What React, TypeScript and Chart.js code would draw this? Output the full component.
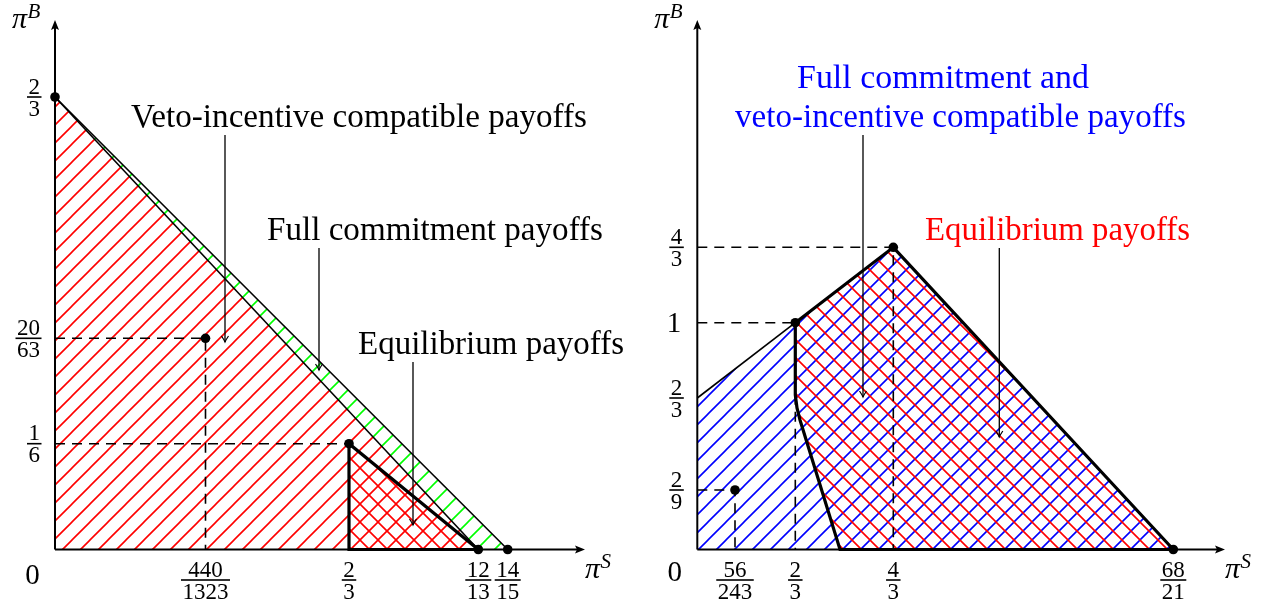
import React, { useEffect, useRef } from 'react';
import { Chart, registerables } from 'chart.js';

Chart.register(...registerables);

type Pt = [number, number];

// ================= Diagram coordinates (schematic units, origin = (0,0)) =================

// ---------- Left panel ----------
const leftAxisEnds: Pt = [53.0, 52.95];
const leftXTickValues = [15.05, 29.4, 42.33, 45.27];
const leftXTickLabels = [['440', '1323'], ['2', '3'], ['12', '13'], ['14', '15']];
const leftYTickValues = [45.25, 21.12, 10.58];
const leftYTickLabels = [['2', '3'], ['20', '63'], ['1', '6']];
const leftFullCommitLine: Pt[] = [[0, 45.25], [45.27, 0]];
const leftVetoLine: Pt[] = [[0, 45.25], [42.33, 0]];
const leftEquilibriumEdge: Pt[] = [[42.33, 0], [29.4, 0], [29.4, 10.58], [42.33, 0]];
const leftGreenStrip: Pt[] = [[0, 45.25], [45.27, 0], [42.33, 0]];
const leftVetoRegion: Pt[] = [[0, 45.25], [42.33, 0], [0, 0]];
const leftEquilibriumRegion: Pt[] = [[29.4, 10.58], [42.33, 0], [29.4, 0]];
const leftDashed: Pt[][] = [
  [[0, 21.12], [15.05, 21.12], [15.05, 0]],
  [[0, 10.58], [29.4, 10.58]],
];
const leftDots: Pt[] = [[0, 45.25], [15.05, 21.12], [29.4, 10.58], [42.33, 0], [45.27, 0]];
const leftPointers: Pt[][] = [
  [[17.0, 41.45], [17.0, 20.75]],
  [[26.4, 30.15], [26.4, 17.95]],
  [[35.8, 18.75], [35.8, 2.45]],
];
const leftTexts = ['Veto-incentive compatible payoffs', 'Full commitment payoffs', 'Equilibrium payoffs'];

// ---------- Right panel ----------
const rightAxisEnds: Pt = [52.77, 52.95];
const rightXTickValues = [3.77, 9.8, 19.6, 47.6];
const rightXTickLabels = [['56', '243'], ['2', '3'], ['4', '3'], ['68', '21']];
const rightYTickValues = [30.22, 15.15, 5.95];
const rightYTickLabels = [['4', '3'], ['2', '3'], ['2', '9']];
const rightYPlainValues = [22.68];
const rightYPlainLabels = ['1'];
const rightVetoRegion: Pt[] = [[0, 15.15], [9.8, 22.68], [19.6, 30.22], [47.6, 0], [0, 0]];
const rightEquilibriumRegion: Pt[] = [
  [9.8, 22.68], [19.6, 30.22], [47.6, 0], [14.27, 0], [10.27, 12.95], [9.97, 14.15], [9.8, 15.45],
];
const rightThinLine: Pt[] = [[0, 15.15], [9.8, 22.68]];
const rightThickOuter: Pt[] = [[9.8, 22.68], [19.6, 30.22], [47.6, 0]];
const rightThickInner: Pt[] = [[9.8, 22.68], [9.8, 15.45], [9.97, 14.15], [10.27, 12.95], [14.27, 0], [47.6, 0]];
const rightDashed: Pt[][] = [
  [[0, 30.22], [19.6, 30.22], [19.6, 0]],
  [[0, 22.68], [9.8, 22.68], [9.8, 0]],
  [[0, 5.95], [3.77, 5.95], [3.77, 0]],
];
const rightDots: Pt[] = [[3.77, 5.95], [9.8, 22.68], [19.6, 30.22], [47.6, 0]];
const rightPointers: Pt[][] = [
  [[16.57, 41.45], [16.57, 15.25]],
  [[30.2, 30.15], [30.2, 11.25]],
];
const rightTexts = ['Full commitment and', 'veto-incentive compatible payoffs', 'Equilibrium payoffs'];

// ================= Styling / layout =================
const SERIF = '"Liberation Serif", "DejaVu Serif", serif';
const RED = '#ff0000';
const GREEN = '#00ff00';
const BLUE = '#0000ff';
const H = 606;
const UNIT = 10; // px per diagram unit

type TextSpec = { text: string; x: number; y: number; width: number; color: string };

type PanelSpec = {
  id: string;
  canvasLeft: number;
  canvasWidth: number;
  originPx: number;
  axisEnds: Pt;
  xTickValues: number[];
  xTickLabels: string[][];
  yTickValues: number[];
  yTickLabels: string[][];
  yPlainValues: number[];
  yPlainLabels: string[];
  zeroBaseline: number;
  pointers: Pt[][];
  texts: TextSpec[];
  datasets: (p: Record<string, CanvasPattern>) => any[];
};

function hatch(color: string, dir: 'ne' | 'nw', P = 18, lw = 1.6): CanvasPattern {
  const c = document.createElement('canvas');
  c.width = P;
  c.height = P;
  const g = c.getContext('2d')!;
  g.strokeStyle = color;
  g.lineWidth = lw;
  g.beginPath();
  if (dir === 'ne') {
    g.moveTo(-2, P + 2); g.lineTo(P + 2, -2);
    g.moveTo(-2, 2); g.lineTo(2, -2);
    g.moveTo(P - 2, P + 2); g.lineTo(P + 2, P - 2);
  } else {
    g.moveTo(-2, -2); g.lineTo(P + 2, P + 2);
    g.moveTo(P - 2, -2); g.lineTo(P + 2, 2);
    g.moveTo(-2, P - 2); g.lineTo(2, P + 2);
  }
  g.stroke();
  return g.createPattern(c, 'repeat')!;
}

const toData = (pts: Pt[]) => pts.map(([x, y]) => ({ x, y }));

function lineDs(pts: Pt[], opts: any) {
  return {
    data: toData(pts),
    pointRadius: 0,
    pointHoverRadius: 0,
    borderColor: '#000',
    backgroundColor: 'transparent',
    borderWidth: 1.5,
    fill: false,
    tension: 0,
    clip: false,
    ...opts,
  };
}

function regionDs(pts: Pt[], pattern: CanvasPattern, order: number) {
  return lineDs(pts, { fill: 'shape', backgroundColor: pattern, borderWidth: 0, order });
}

function dotsDs(pts: Pt[]) {
  return {
    data: toData(pts),
    showLine: false,
    pointRadius: 4.8,
    pointHoverRadius: 4.8,
    pointBackgroundColor: '#000',
    pointBorderColor: '#000',
    pointBorderWidth: 0,
    borderWidth: 0,
    clip: false,
    order: 0,
  };
}

function axesDs(ends: Pt) {
  return [
    lineDs([[0, 0], [ends[0] - 0.6, 0]], { borderWidth: 2, order: 30 }),
    lineDs([[0, 0], [0, ends[1] - 0.6]], { borderWidth: 2, order: 30 }),
  ];
}

function fraction(ctx: CanvasRenderingContext2D, x: number, barY: number, lab: string[], align: 'center' | 'right') {
  ctx.font = `23px ${SERIF}`;
  const wn = ctx.measureText(lab[0]).width;
  const wd = ctx.measureText(lab[1]).width;
  const w = Math.max(wn, wd) + 3;
  const cx = align === 'center' ? x : x - w / 2;
  ctx.fillRect(cx - w / 2, barY - 0.8, w, 1.6);
  ctx.textAlign = 'center';
  ctx.textBaseline = 'alphabetic';
  ctx.fillText(lab[0], cx, barY - 3.5);
  ctx.fillText(lab[1], cx, barY + 18.5);
}

function piLabel(ctx: CanvasRenderingContext2D, x: number, baseline: number, sup: string, supRise: number) {
  ctx.textAlign = 'left';
  ctx.textBaseline = 'alphabetic';
  ctx.font = `italic 30px ${SERIF}`;
  ctx.fillText('π', x, baseline);
  const w = ctx.measureText('π').width;
  ctx.font = `italic 21px ${SERIF}`;
  ctx.fillText(sup, x + w + 0.5, baseline - supRise);
}

function makeOverlay(spec: PanelSpec) {
  return {
    id: 'overlay_' + spec.id,
    afterDatasetsDraw(chart: any) {
      const ctx: CanvasRenderingContext2D = chart.ctx;
      const X = (v: number) => chart.scales.x.getPixelForValue(v);
      const Y = (v: number) => chart.scales.y.getPixelForValue(v);
      const ox = X(0);
      const oy = Y(0);
      ctx.save();
      ctx.fillStyle = '#000';
      ctx.strokeStyle = '#000';

      // axis arrow heads
      const tx = X(spec.axisEnds[0]);
      ctx.beginPath();
      ctx.moveTo(tx, oy);
      ctx.lineTo(tx - 10, oy - 4);
      ctx.lineTo(tx - 8, oy);
      ctx.lineTo(tx - 10, oy + 4);
      ctx.closePath();
      ctx.fill();
      const ty = Y(spec.axisEnds[1]);
      ctx.beginPath();
      ctx.moveTo(ox, ty);
      ctx.lineTo(ox - 4, ty + 10);
      ctx.lineTo(ox, ty + 8);
      ctx.lineTo(ox + 4, ty + 10);
      ctx.closePath();
      ctx.fill();

      // pointer heads (open arrow)
      ctx.lineWidth = 1.2;
      for (const p of spec.pointers) {
        const px = X(p[1][0]);
        const py = Y(p[1][1]);
        ctx.beginPath();
        ctx.moveTo(px - 3.5, py - 6);
        ctx.quadraticCurveTo(px - 0.8, py - 2, px, py);
        ctx.quadraticCurveTo(px + 0.8, py - 2, px + 3.5, py - 6);
        ctx.stroke();
      }

      // annotation texts
      for (const t of spec.texts) {
        ctx.font = `30px ${SERIF}`;
        const w = ctx.measureText(t.text).width;
        const size = (30 * t.width) / w;
        ctx.font = `${size.toFixed(2)}px ${SERIF}`;
        ctx.fillStyle = t.color;
        ctx.textAlign = 'center';
        ctx.textBaseline = 'alphabetic';
        ctx.fillText(t.text, X(t.x), Y(t.y));
      }
      ctx.fillStyle = '#000';

      // tick labels
      spec.xTickValues.forEach((v, i) => fraction(ctx, X(v), oy + 30.5, spec.xTickLabels[i], 'center'));
      spec.yTickValues.forEach((v, i) => fraction(ctx, ox - 13.5, Y(v), spec.yTickLabels[i], 'right'));
      ctx.font = `29px ${SERIF}`;
      ctx.textAlign = 'right';
      ctx.textBaseline = 'alphabetic';
      spec.yPlainValues.forEach((v, i) => ctx.fillText(spec.yPlainLabels[i], ox - 16, Y(v) + 9.5));

      // zero
      ctx.font = `29px ${SERIF}`;
      ctx.textAlign = 'center';
      ctx.fillText('0', ox - 22.5, oy + spec.zeroBaseline);

      // axis names
      piLabel(ctx, tx, oy + 28.5, 'S', 10);
      piLabel(ctx, ox - 43, ty + 8, 'B', 10);

      ctx.restore();
    },
  };
}

function buildChart(canvas: HTMLCanvasElement, spec: PanelSpec) {
  const patterns = {
    redNE: hatch(RED, 'ne'),
    redNW: hatch(RED, 'nw'),
    greenNE: hatch(GREEN, 'ne'),
    blueNE: hatch(BLUE, 'ne'),
  };
  const xMin = -spec.originPx / UNIT;
  const xMax = (spec.canvasWidth - spec.originPx) / UNIT;
  const originY = 549.5;
  const yMax = originY / UNIT;
  const yMin = -(H - originY) / UNIT;
  return new Chart(canvas, {
    type: 'line',
    data: { datasets: spec.datasets(patterns) },
    options: {
      animation: false,
      responsive: false,
      maintainAspectRatio: false,
      devicePixelRatio: 1,
      events: [],
      layout: { padding: 0, autoPadding: false },
      plugins: {
        legend: { display: false },
        tooltip: { enabled: false },
        title: { display: false },
      },
      scales: {
        x: { type: 'linear', min: xMin, max: xMax, display: false, bounds: 'data' },
        y: { type: 'linear', min: yMin, max: yMax, display: false, bounds: 'data' },
      },
    } as any,
    plugins: [makeOverlay(spec) as any],
  });
}

const leftSpec: PanelSpec = {
  id: 'left',
  canvasLeft: 0,
  canvasWidth: 636,
  originPx: 55,
  axisEnds: leftAxisEnds,
  xTickValues: leftXTickValues,
  xTickLabels: leftXTickLabels,
  yTickValues: leftYTickValues,
  yTickLabels: leftYTickLabels,
  yPlainValues: [],
  yPlainLabels: [],
  zeroBaseline: 34.5,
  pointers: leftPointers,
  texts: [
    { text: leftTexts[0], x: 30.4, y: 42.25, width: 456, color: '#000' },
    { text: leftTexts[1], x: 38.0, y: 30.95, width: 336, color: '#000' },
    { text: leftTexts[2], x: 43.6, y: 19.55, width: 266, color: '#000' },
  ],
  datasets: (p) => [
    regionDs(leftGreenStrip, p.greenNE, 120),
    regionDs(leftVetoRegion, p.redNE, 110),
    regionDs(leftEquilibriumRegion, p.redNW, 100),
    ...leftDashed.map((d) => lineDs(d, { borderDash: [10, 7], borderWidth: 1.6, order: 50 })),
    lineDs(leftFullCommitLine, { borderWidth: 1.6, order: 40 }),
    lineDs(leftVetoLine, { borderWidth: 1.6, order: 40 }),
    ...axesDs(leftAxisEnds),
    lineDs(leftEquilibriumEdge, { borderWidth: 3.2, order: 20 }),
    ...leftPointers.map((d) => lineDs(d, { borderWidth: 1.3, order: 10 })),
    dotsDs(leftDots),
  ],
};

const rightSpec: PanelSpec = {
  id: 'right',
  canvasLeft: 636,
  canvasWidth: 637,
  originPx: 61.3,
  axisEnds: rightAxisEnds,
  xTickValues: rightXTickValues,
  xTickLabels: rightXTickLabels,
  yTickValues: rightYTickValues,
  yTickLabels: rightYTickLabels,
  yPlainValues: rightYPlainValues,
  yPlainLabels: rightYPlainLabels,
  zeroBaseline: 31.5,
  pointers: rightPointers,
  texts: [
    { text: rightTexts[0], x: 24.57, y: 46.15, width: 292, color: BLUE },
    { text: rightTexts[1], x: 26.32, y: 42.25, width: 451, color: BLUE },
    { text: rightTexts[2], x: 36.02, y: 30.95, width: 265, color: RED },
  ],
  datasets: (p) => [
    regionDs(rightVetoRegion, p.blueNE, 110),
    regionDs(rightEquilibriumRegion, p.redNW, 100),
    ...rightDashed.map((d) => lineDs(d, { borderDash: [10, 7], borderWidth: 1.6, order: 50 })),
    lineDs(rightThinLine, { borderWidth: 1.6, order: 40 }),
    ...axesDs(rightAxisEnds),
    lineDs(rightThickOuter, { borderWidth: 3.2, order: 20 }),
    lineDs(rightThickInner, { borderWidth: 3.2, order: 20 }),
    ...rightPointers.map((d) => lineDs(d, { borderWidth: 1.3, order: 10 })),
    dotsDs(rightDots),
  ],
};

function Panel({ spec }: { spec: PanelSpec }) {
  const ref = useRef<HTMLCanvasElement>(null);
  useEffect(() => {
    if (!ref.current) return;
    const chart = buildChart(ref.current, spec);
    return () => chart.destroy();
  }, [spec]);
  return (
    <canvas
      ref={ref}
      width={spec.canvasWidth}
      height={H}
      style={{ position: 'absolute', left: spec.canvasLeft, top: 0, width: spec.canvasWidth, height: H }}
    />
  );
}

export default function App() {
  return (
    <div style={{ position: 'absolute', left: 0, top: 0, width: 1273, height: H, background: '#fff' }}>
      <Panel spec={leftSpec} />
      <Panel spec={rightSpec} />
    </div>
  );
}
